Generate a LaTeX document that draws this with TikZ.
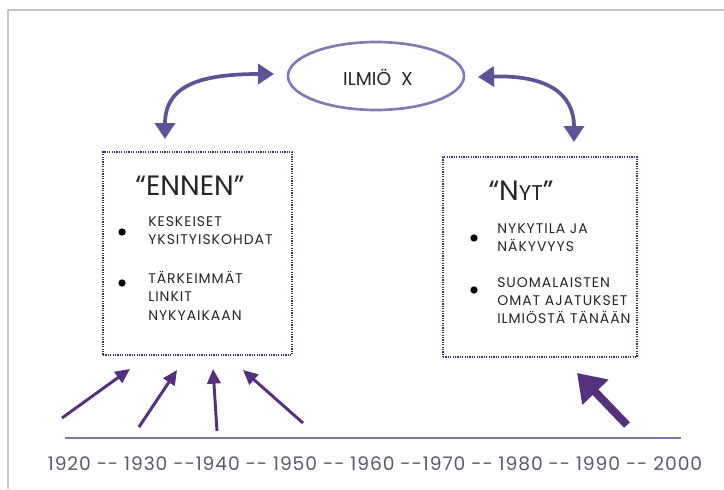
\documentclass[tikz,border=0pt]{standalone}
\usepackage{fontspec}
\setmainfont{Poppins}
\usetikzlibrary{arrows.meta,shapes.geometric}
\definecolor{topPurple}{HTML}{5E5398}
\definecolor{lowPurple}{HTML}{55307F}
\definecolor{lineLav}{HTML}{7D74B4}
\definecolor{ellLav}{HTML}{8479B8}
\definecolor{dotNavy}{HTML}{2E3560}
\definecolor{frameGray}{HTML}{C4C4C4}
\definecolor{yearGray}{HTML}{5A5A6A}
\tikzset{
  dotbox/.style={draw=dotNavy, line width=1.4pt, dash pattern=on 0.9pt off 0.9pt},
  toparrow/.style={draw=topPurple, line width=2.8pt, {Triangle[width=15pt,length=12pt]}-{Triangle[width=15pt,length=12pt]}},
  lowarrow/.style={draw=lowPurple, line width=2.2pt, -{Triangle[width=10pt,length=11pt]}},
  bigarrow/.style={draw=lowPurple, line width=6pt, -{Triangle[width=26pt,length=20pt]}},
  bodytext/.style={anchor=north west, align=left, font=\fontsize{10.5pt}{13.8pt}\selectfont\addfontfeature{LetterSpace=7}, text=black!85, inner sep=0pt},
  bulletdot/.style={circle, fill=black, inner sep=0pt, minimum size=5.5pt},
  titletext/.style={font=\fontsize{21pt}{24pt}\selectfont, text=black!85, inner sep=0pt}
}
\begin{document}
\begin{tikzpicture}[x=0.75pt,y=-0.75pt]
\useasboundingbox (0,0) rectangle (724,489);
\fill[white] (0,0) rectangle (724,489);
% frame
\draw[frameGray, line width=1.2pt] (8,489) -- (8,10) -- (724,10);
% ellipse
\node[draw=ellLav, line width=2pt, ellipse, minimum width=176*0.75pt, minimum height=68*0.75pt, inner sep=0pt] (ilmio) at (376,76) {};
\node[font=\fontsize{14pt}{16pt}\selectfont, text=black!85] (ilmiotxt) at (378,77) {ILMIÖ\ \ X};
% boxes
\node[dotbox, minimum width=189*0.75pt, minimum height=203*0.75pt, inner sep=0pt] (ennen) at (197.5,253.5) {};
\node[dotbox, minimum width=194*0.75pt, minimum height=200*0.75pt, inner sep=0pt] (nyt) at (540,257) {};
% titles
\node[titletext] (ennenT) at (190,186) {“ENNEN”};
\node[titletext] (nytT) at (521,191) {“N{\fontsize{16pt}{18pt}\selectfont YT}”};
% left bullets
\node[bulletdot] (b1) at (122,232) {};
\node[bodytext] (t1) at (148,216) {KESKEISET\\YKSITYISKOHDAT};
\node[bulletdot] (b2) at (122,283) {};
\node[bodytext] (t2) at (148,271) {TÄRKEIMMÄT\\LINKIT\\NYKYAIKAAN};
% right bullets
\node[bulletdot] (b3) at (474,238) {};
\node[bodytext] (t3) at (497,223) {NYKYTILA JA\\NÄKYVYYS};
\node[bulletdot] (b4) at (474,290) {};
\node[bodytext] (t4) at (497,277) {SUOMALAISTEN\\OMAT AJATUKSET\\ILMIÖSTÄ TÄNÄÄN};
% top curved arrows
\coordinate (la) at (165,139);
\coordinate (lb) at (274,74);
\draw[toparrow] (la) .. controls (165,88) and (195,74) .. (lb);
\coordinate (ra) at (478,77);
\coordinate (rb) at (574,142);
\draw[toparrow] (ra) .. controls (545,75) and (574,92) .. (rb);
% timeline
\coordinate (tl0) at (65,438);
\coordinate (tl1) at (681,438);
\draw[lineLav, line width=2pt] (tl0) -- (tl1);
\node[font=\fontsize{14pt}{16pt}\selectfont\addfontfeature{LetterSpace=5}, text=yearGray, inner sep=0pt] (years) at (375,464)
 {1920 {-}{-} 1930 {-}{-}1940 {-}{-} 1950 {-}{-} 1960 {-}{-}1970 {-}{-} 1980 {-}{-} 1990 {-}{-} 2000};
% bottom arrows
\coordinate (a1s) at (62,418); \coordinate (a1e) at (130,369);
\coordinate (a2s) at (139,427); \coordinate (a2e) at (177,370);
\coordinate (a3s) at (217,431); \coordinate (a3e) at (213,369);
\coordinate (a4s) at (303,423); \coordinate (a4e) at (243,370);
\draw[lowarrow] (a1s) -- (a1e);
\draw[lowarrow] (a2s) -- (a2e);
\draw[lowarrow] (a3s) -- (a3e);
\draw[lowarrow] (a4s) -- (a4e);
\coordinate (a5s) at (627,425); \coordinate (a5e) at (577,373);
\draw[bigarrow] (a5s) -- (a5e);
\end{tikzpicture}
\end{document}
